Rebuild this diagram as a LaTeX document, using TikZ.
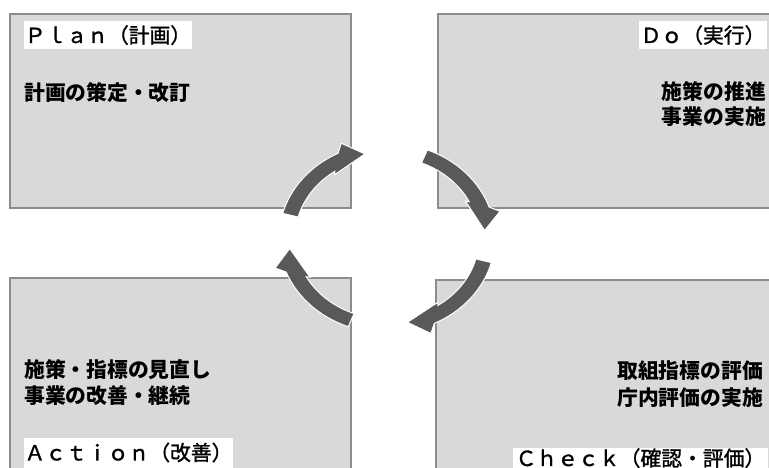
\documentclass[tikz,border=0pt]{standalone}
\usepackage{fontspec}
\newfontfamily\jp{Noto Sans CJK JP}
\newfontfamily\jplabel{Noto Sans CJK JP}[FakeBold=1.3]
\definecolor{boxfill}{HTML}{D9D9D9}
\definecolor{boxline}{HTML}{8C8C8C}
\definecolor{arrowfill}{HTML}{595959}
\newcommand\pdcaarrow[2]{%
  \path[cyc] (#2:108pt) arc[start angle=#2, end angle={#1+14}, radius=108pt]
    -- ({#1+10}:117pt) -- (#1:98pt) -- ({#1+23}:89pt) -- ({#1+21.6}:92pt)
    arc[start angle={#1+21.6}, end angle=#2, radius=92pt] -- cycle;}
\begin{document}
\begin{tikzpicture}[x=1pt,y=1pt,
  pdcabox/.style={fill=boxfill,draw=boxline,line width=1.3pt},
  cyc/.style={fill=arrowfill,draw=white,line width=1pt,line join=miter},
  tag/.style={fill=white},
  lbl/.style={font=\jplabel\fontsize{20.8}{25}\selectfont,inner sep=0pt,anchor=base},
  body/.style={font=\jp\bfseries\fontsize{20.8}{25}\selectfont,inner sep=0pt}]
\useasboundingbox (0,0) rectangle (769,468);
\clip (0,0) rectangle (769,468);
% boxes
\path[pdcabox] (10,454) rectangle (351,260);
\path[pdcabox] (438,454) rectangle (790,260);
\path[pdcabox] (10,190) rectangle (351,-20);
\path[pdcabox] (436,188) rectangle (790,-20);
% label backgrounds
\path[tag] (24,419) rectangle (192,447);
\path[tag] (639,419) rectangle (767,447);
\path[tag] (24,-5) rectangle (233,30);
\path[tag] (513,-5) rectangle (768,20);
% cycle arrows
\begin{scope}[shift={(387,230)},yscale=0.88]
\pdcaarrow{103}{165}
\pdcaarrow{5}{68}
\pdcaarrow{-78}{-15}
\pdcaarrow{-173}{-111}
\end{scope}
% labels
\node[lbl] (plan) at (108,425) {Ｐｌａｎ（計画）};
\node[lbl] (do) at (703,425) {Ｄｏ（実行）};
\node[lbl] (action) at (128.5,7.6) {Ａｃｔｉｏｎ（改善）};
\node[lbl] (check) at (640.5,2) {Ｃｈｅｃｋ（確認・評価）};
% body texts
\node[body,anchor=base west] (planA) at (24,367) {計画の策定・改訂};
\node[body,anchor=base east] (doA) at (766,368) {施策の推進};
\node[body,anchor=base east] (doB) at (766,343) {事業の実施};
\node[body,anchor=base west] (actA) at (24,90) {施策・指標の見直し};
\node[body,anchor=base west] (actB) at (24,64) {事業の改善・継続};
\node[body,anchor=base east] (chkA) at (763,89) {取組指標の評価};
\node[body,anchor=base east] (chkB) at (763,62) {庁内評価の実施};
\end{tikzpicture}
\end{document}
